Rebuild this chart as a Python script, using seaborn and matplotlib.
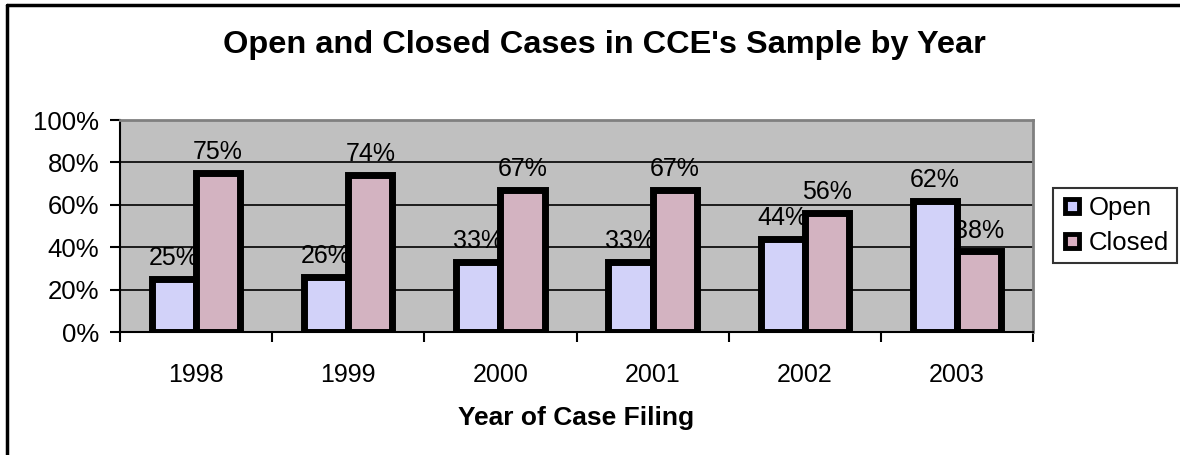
import matplotlib
matplotlib.use('Agg')
import matplotlib.pyplot as plt
import matplotlib.transforms as mtransforms
from matplotlib.lines import Line2D
from matplotlib.ticker import FuncFormatter, MultipleLocator
import pandas as pd
import seaborn as sns


years = ['1998', '1999', '2000', '2001', '2002', '2003']
open_pct = [25, 26, 33, 33, 44, 62]
closed_pct = [75, 74, 67, 67, 56, 38]
series = ['Open', 'Closed']
colors = ['#CCCCFF', '#D8AEC0']

W, H = 1180, 455


def main():
    df = pd.DataFrame({
        'year': years * 2,
        'status': ['Open'] * len(years) + ['Closed'] * len(years),
        'pct': open_pct + closed_pct,
    })

    sns.set_style('white')
    plt.rcParams['font.family'] = ['Liberation Sans', 'DejaVu Sans']
    plt.rcParams['text.color'] = 'black'
    plt.rcParams['xtick.color'] = 'black'
    plt.rcParams['ytick.color'] = 'black'
    plt.rcParams['axes.labelcolor'] = 'black'

    fig = plt.figure(figsize=(W / 100, H / 100), dpi=100)
    ax = fig.add_axes([120 / W, 1 - 332 / H, 913 / W, 212 / H])

    sns.barplot(data=df, x='year', y='pct', hue='status', hue_order=series,
                palette=colors, width=0.58, edgecolor='black', linewidth=5,
                ax=ax, legend=False, zorder=2)

    ax.set_facecolor('#C0C0C0')
    ax.set_ylim(0, 100)
    ax.set_xlim(-0.5, len(years) - 0.5)
    ax.yaxis.set_major_locator(MultipleLocator(20))
    ax.yaxis.set_major_formatter(FuncFormatter(lambda v, p: '{:.0f}%'.format(v)))
    for y in [20, 40, 60, 80]:
        ax.axhline(y, color='black', linewidth=1.2, zorder=0.5)

    for spine in ['top', 'right']:
        ax.spines[spine].set_color('#808080')
        ax.spines[spine].set_linewidth(2)
    for spine in ['left', 'bottom']:
        ax.spines[spine].set_color('black')
        ax.spines[spine].set_linewidth(1.5)

    # year ticks sit between groups, like the original spreadsheet chart
    ax.set_xticks([i + 0.5 for i in range(-1, len(years))])
    ax.set_xticklabels([])
    ax.tick_params(axis='x', direction='out', length=7, width=1.5,
                   color='black', bottom=True)
    ax.tick_params(axis='y', direction='out', length=7, width=1.5,
                   color='black', labelcolor='black', left=True,
                   labelsize=18.5, pad=8)
    year_tr = mtransforms.blended_transform_factory(ax.transData, fig.transFigure)
    for i, yr in enumerate(years):
        ax.text(i, 1 - 382 / H, yr, ha='center', va='baseline', fontsize=18,
                color='black', transform=year_tr, clip_on=False)

    # value labels sit behind the bars, so neighbours may cover them
    for container, vals in zip(ax.containers, [open_pct, closed_pct]):
        for bar, v in zip(container, vals):
            ax.annotate('{}%'.format(v), (bar.get_x() + bar.get_width() / 2, v),
                        xytext=(0, 10), textcoords='offset points',
                        ha='center', va='baseline', fontsize=18,
                        color='black', zorder=1)

    ax.set_xlabel('')
    ax.set_ylabel('')
    fig.text(576 / W, 1 - 425 / H, 'Year of Case Filing', ha='center',
             va='baseline', fontsize=19, fontweight='bold', color='black')
    fig.text(604 / W, 1 - 53 / H, "Open and Closed Cases in CCE's Sample by Year",
             ha='center', va='baseline', fontsize=23.4, fontweight='bold',
             color='black')

    handles = [Line2D([], [], marker='s', linestyle='none', markersize=10,
                      markerfacecolor=c, markeredgecolor='black',
                      markeredgewidth=3.5) for c in colors]
    leg = fig.legend(handles, series, loc='center',
                     bbox_to_anchor=(1115 / W, 1 - 225.5 / H),
                     fontsize=18.5, frameon=True, fancybox=False,
                     handletextpad=0.25, handlelength=0.8, labelspacing=0.44,
                     borderpad=0.31, borderaxespad=0, labelcolor='black')
    leg.get_frame().set_edgecolor('black')
    leg.get_frame().set_linewidth(1.5)

    # outer chart border (left and top edges only are visible)
    fig.add_artist(Line2D([7 / W, 7 / W], [0, 1 - 5 / H],
                          transform=fig.transFigure, color='black', linewidth=2.5))
    fig.add_artist(Line2D([7 / W, 1], [1 - 5 / H, 1 - 5 / H],
                          transform=fig.transFigure, color='black', linewidth=2.5))

    fig.savefig('out.png', dpi=100, facecolor='white')


if __name__ == '__main__':
    main()
